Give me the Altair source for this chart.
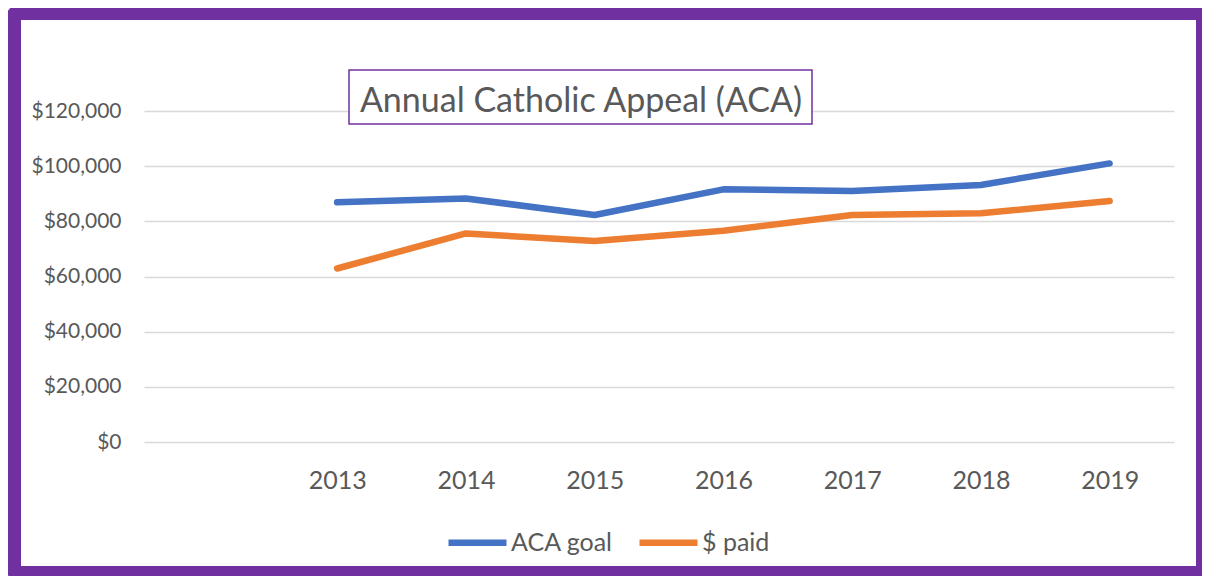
import altair as alt
import pandas as pd

years = ["2013", "2014", "2015", "2016", "2017", "2018", "2019"]
aca_goal = [86900, 88300, 82300, 91600, 91000, 93200, 101000]
dollars_paid = [62900, 75600, 72900, 76600, 82300, 82900, 87400]
series_names = ["ACA goal", "$ paid"]
series_colors = ["#4472C4", "#ED7D31"]
x_categories = [""] + years
y_ticks = [0, 20000, 40000, 60000, 80000, 100000, 120000]
title_text = "Annual Catholic Appeal (ACA)"

rows = []
for yr, g, p in zip(years, aca_goal, dollars_paid):
    rows.append({"year": yr, "series": series_names[0], "value": g})
    rows.append({"year": yr, "series": series_names[1], "value": p})
df = pd.DataFrame(rows)
title_df = pd.DataFrame({"t": [title_text]})

W, H = 1030, 331
FONT = "Lato"
GREY = "#595959"
PURPLE = "#7030A0"

lines = alt.Chart(df).mark_line(strokeWidth=6.5, strokeCap="round", strokeJoin="round").encode(
    x=alt.X("year:N",
            scale=alt.Scale(type="point", domain=x_categories, padding=0.5),
            axis=alt.Axis(title=None, labelAngle=0, domain=False, ticks=False, grid=False,
                          labelFontSize=25, labelPadding=26, labelColor=GREY, labelFont=FONT)),
    y=alt.Y("value:Q",
            scale=alt.Scale(domain=[0, 120000], nice=False),
            axis=alt.Axis(values=y_ticks, format="$,.0f", title=None, domain=False, ticks=False,
                          labelFontSize=21, labelPadding=23, labelColor=GREY, labelFont=FONT,
                          gridColor="#D9D9D9", gridWidth=1.5)),
    color=alt.Color("series:N",
                    scale=alt.Scale(domain=series_names, range=series_colors),
                    legend=alt.Legend(title=None, orient="none", legendX=301, legendY=399,
                                      direction="horizontal", symbolType="stroke",
                                      symbolSize=3364, symbolStrokeWidth=6.5,
                                      labelFontSize=25, labelColor=GREY, labelFont=FONT,
                                      labelOffset=1, columnPadding=13, padding=0)),
)

title_box = alt.Chart(title_df).mark_rect(fill="white", stroke=PURPLE, strokeWidth=1.5).encode(
    x=alt.value(205), x2=alt.value(668), y=alt.value(-41), y2=alt.value(13)
)
title_txt = alt.Chart(title_df).mark_text(font=FONT, fontSize=34, color=GREY, align="center",
                                          baseline="alphabetic").encode(
    x=alt.value(437), y=alt.value(1), text="t:N"
)
border = alt.Chart(title_df).mark_rect(filled=False, stroke=PURPLE, strokeWidth=16, cornerRadius=8).encode(
    x=alt.value(-131), x2=alt.value(1060), y=alt.value(-99), y2=alt.value(463)
)

chart = alt.layer(lines, title_box, title_txt, border).properties(
    width=W, height=H,
    padding={"left": 136, "top": 103, "right": 28, "bottom": 134},
    autosize=alt.AutoSizeParams(type="none"),
    background="white",
).configure(font=FONT).configure_view(stroke=None)

chart.save("out.html", embed_options={"renderer": "svg", "actions": False})
